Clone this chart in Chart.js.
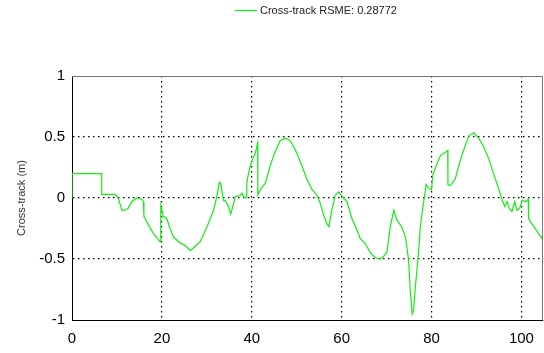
<!DOCTYPE html>
<html>
<head>
<meta charset="utf-8">
<script src="https://cdn.jsdelivr.net/npm/chart.js@4"></script>
<style>
  html, body { margin: 0; padding: 0; background: #fff; }
  #wrap { width: 544px; height: 353px; }
</style>
</head>
<body>
<div id="wrap"><canvas id="chart"></canvas></div>
<script>
// ─── Data ───
const seriesLabel = 'Cross-track RSME: 0.28772';
const axisTitle = 'Cross-track (m)';
const xTicks = [0, 20, 40, 60, 80, 100];
const yTicks = [-1, -0.5, 0, 0.5, 1];

const xs = [
  0, 0, 6.6, 6.6, 9.6, 10.3, 11.1, 11.8, 12.5, 13.3,
  14.4, 15.5, 15.9, 16.0, 17.0, 18.1, 19.0, 19.6, 19.75, 20.3,
  21.1, 21.8, 22.6, 24.1, 25.2, 26.3, 27.0, 28.5, 30.0, 31.5,
  32.2, 32.8, 33.1, 33.7, 34.1, 34.8, 35.3, 35.8, 36.3, 37.4,
  37.8, 38.3, 38.8, 38.9, 39.5, 40.0, 40.8, 41.3, 41.35, 41.9,
  43.0, 44.1, 45.2, 46.3, 47.4, 48.2, 48.9, 50.0, 51.2, 52.3,
  53.4, 54.5, 55.2, 56.0, 56.7, 57.2, 57.8, 58.6, 59.3, 60.2,
  61.2, 62.3, 63.4, 64.1, 65.3, 66.4, 67.5, 68.6, 69.3, 70.1,
  70.8, 71.6, 72.3, 73.4, 74.2, 74.9, 75.3, 75.7, 76.0, 76.4,
  77.1, 77.5, 78.1, 78.8, 79.4, 80.0, 80.3, 81.1, 82.0, 82.9,
  83.6, 83.65, 84.2, 85.3, 86.4, 87.5, 88.3, 89.4, 90.5, 91.6,
  92.7, 93.8, 94.9, 95.7, 96.3, 96.8, 97.3, 97.9, 98.5, 99.0,
  99.6, 100.2, 100.9, 101.5, 101.6, 102.7, 103.8, 104.7,
];

const crossTrack = [
  0, 0.2, 0.2, 0.03, 0.03, 0, -0.1, -0.1, -0.085, -0.03,
  0, -0.01, -0.03, -0.15, -0.22, -0.29, -0.33, -0.36, -0.06, -0.15,
  -0.17, -0.25, -0.32, -0.37, -0.39, -0.43, -0.41, -0.36, -0.24, -0.10,
  0.01, 0.13, 0.12, -0.02, -0.02, -0.07, -0.13, -0.07, 0.01, 0.02,
  0.04, 0.005, 0, 0.13, 0.24, 0.30, 0.37, 0.45, 0.025, 0.07,
  0.12, 0.265, 0.38, 0.47, 0.49, 0.48, 0.45, 0.37, 0.26, 0.15,
  0.07, 0.025, -0.04, -0.14, -0.21, -0.235, -0.10, 0.025, 0.05, 0.01,
  -0.03, -0.17, -0.26, -0.33, -0.375, -0.45, -0.49, -0.50, -0.48, -0.44,
  -0.24, -0.10, -0.18, -0.24, -0.32, -0.51, -0.78, -0.95, -0.92, -0.73,
  -0.45, -0.24, -0.07, 0.11, 0.08, 0.07, 0.19, 0.27, 0.35, 0.37,
  0.39, 0.11, 0.10, 0.16, 0.31, 0.43, 0.51, 0.535, 0.49, 0.42,
  0.325, 0.2, 0.08, -0.015, -0.07, -0.03, -0.085, -0.11, -0.03, -0.10,
  -0.085, -0.015, -0.03, -0.01, -0.17, -0.23, -0.29, -0.34,
];

const LINE_COLOR = '#11ee11';
const FONT = '"Liberation Sans", Arial, sans-serif';

// ─── Plugins ───
// top/right frame in gray, like the original plot box
const frame = {
  id: 'frame',
  afterDraw(chart) {
    const { ctx, chartArea: a } = chart;
    ctx.save();
    ctx.strokeStyle = '#777';
    ctx.lineWidth = 1;
    ctx.beginPath();
    ctx.moveTo(a.left, a.top + 0.5);
    ctx.lineTo(a.right - 0.5, a.top + 0.5);
    ctx.lineTo(a.right - 0.5, a.bottom);
    ctx.stroke();
    ctx.restore();
  },
};

// legend sits off-centre at the top
const topLegend = {
  id: 'topLegend',
  afterDraw(chart) {
    const { ctx } = chart;
    ctx.save();
    ctx.strokeStyle = LINE_COLOR;
    ctx.lineWidth = 1.2;
    ctx.beginPath();
    ctx.moveTo(235, 10.5);
    ctx.lineTo(257, 10.5);
    ctx.stroke();
    ctx.fillStyle = '#222';
    ctx.font = `11px ${FONT}`;
    ctx.textBaseline = 'middle';
    ctx.fillText(seriesLabel, 260, 11);
    ctx.restore();
  },
};

const gridColor = (min, max) => (c) => {
  const v = c.tick && c.tick.value;
  return v === min || v === max ? 'rgba(0,0,0,0)' : '#000';
};

// ─── Chart ───
new Chart(document.getElementById('chart'), {
  type: 'line',
  data: {
    datasets: [{
      label: seriesLabel,
      data: xs.map((x, i) => ({ x, y: crossTrack[i] })),
      borderColor: LINE_COLOR,
      borderWidth: 1.2,
      pointRadius: 0,
      tension: 0,
      fill: false,
    }],
  },
  options: {
    responsive: true,
    maintainAspectRatio: false,
    animation: false,
    layout: { padding: { top: 76, right: 1, left: 0, bottom: 0 } },
    plugins: {
      legend: { display: false },
      tooltip: { enabled: false },
    },
    scales: {
      x: {
        type: 'linear',
        min: 0,
        max: 104.8,
        afterBuildTicks: (s) => { s.ticks = xTicks.map((v) => ({ value: v })); },
        afterFit: (s) => { s.height = 33; },
        ticks: {
          color: '#000',
          font: { family: FONT, size: 15 },
          padding: 10,
          maxRotation: 0,
        },
        grid: {
          drawTicks: false,
          color: gridColor(0, 104.8),
          lineWidth: 1.2,
        },
        border: { display: true, color: '#000', width: 1, dash: [1.5, 3.5] },
      },
      y: {
        min: -1,
        max: 1,
        afterBuildTicks: (s) => { s.ticks = yTicks.map((v) => ({ value: v })); },
        afterFit: (s) => { s.width = 72; },
        ticks: {
          color: '#000',
          font: { family: FONT, size: 15 },
          padding: 7,
          callback: (v) => String(v),
        },
        grid: {
          drawTicks: false,
          color: gridColor(-1, 1),
          lineWidth: 1.2,
        },
        border: { display: true, color: '#000', width: 1, dash: [1.5, 3.5] },
        title: {
          display: true,
          text: axisTitle,
          color: '#333',
          font: { family: FONT, size: 11 },
          padding: { top: 15, bottom: 0 },
        },
      },
    },
  },
  plugins: [frame, topLegend],
});
</script>
</body>
</html>
